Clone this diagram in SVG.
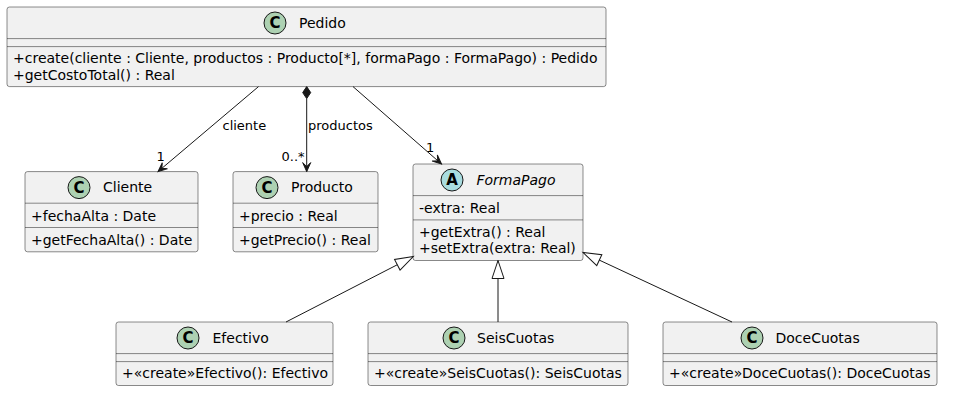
<svg xmlns="http://www.w3.org/2000/svg" width="957" height="400" viewBox="0 0 957 400">
<defs>
<style>
.box{fill:#F1F1F1;stroke:#181818;stroke-width:0.5;}
.sep{stroke:#181818;stroke-width:0.5;}
.t{font-family:"DejaVu Sans","Liberation Sans",sans-serif;font-size:14px;fill:#000000;}
.lbl{font-family:"DejaVu Sans","Liberation Sans",sans-serif;font-size:13px;fill:#000000;}
.ci{fill:#ADD1B2;stroke:#181818;stroke-width:1;}
.ai{fill:#A9DCDF;stroke:#181818;stroke-width:1;}
.ch{font-family:"DejaVu Sans","Liberation Sans",sans-serif;font-size:15px;font-weight:bold;fill:#000000;text-anchor:middle;}
.ln{stroke:#181818;stroke-width:1;fill:none;}
</style>
<marker id="arr" markerUnits="userSpaceOnUse" viewBox="-12 -6 14 12" refX="0" refY="0" markerWidth="14" markerHeight="12" orient="auto">
<path d="M0,0 L-9,-4 L-5,0 L-9,4 Z" fill="#181818" stroke="#181818" stroke-width="1"/>
</marker>
<marker id="tri" markerUnits="userSpaceOnUse" viewBox="-20 -8 22 16" refX="0" refY="0" markerWidth="22" markerHeight="16" orient="auto">
<path d="M0,0 L-18,-6 L-18,6 Z" fill="#FFFFFF" stroke="#181818" stroke-width="1"/>
</marker>
</defs>
<rect x="0" y="0" width="957" height="400" fill="#FFFFFF"/>

<g id="Pedido">
<rect class="box" x="7" y="7" width="599" height="79.6" rx="2.5" ry="2.5"/>
<circle class="ci" cx="275" cy="23" r="11"/>
<text class="ch" x="275" y="28.3">C</text>
<text class="t" x="299" y="27.8">Pedido</text>
<line class="sep" x1="7" y1="38.6" x2="606" y2="38.6"/>
<line class="sep" x1="7" y1="46.6" x2="606" y2="46.6"/>
<text class="t" x="13" y="63.4">+create(cliente : Cliente, productos : Producto[*], formaPago : FormaPago) : Pedido</text>
<text class="t" x="13" y="79.5">+getCostoTotal() : Real</text>
</g>

<g id="Cliente">
<rect class="box" x="25" y="171.6" width="173" height="80.2" rx="2.5" ry="2.5"/>
<circle class="ci" cx="79" cy="187.6" r="11"/>
<text class="ch" x="79" y="192.9">C</text>
<text class="t" x="103" y="192.4">Cliente</text>
<line class="sep" x1="25" y1="203.2" x2="198" y2="203.2"/>
<text class="t" x="31" y="220.5">+fechaAlta : Date</text>
<line class="sep" x1="25" y1="227.5" x2="198" y2="227.5"/>
<text class="t" x="31" y="244.8">+getFechaAlta() : Date</text>
</g>

<g id="Producto">
<rect class="box" x="233" y="171.6" width="145" height="80.2" rx="2.5" ry="2.5"/>
<circle class="ci" cx="267" cy="187.6" r="11"/>
<text class="ch" x="267" y="192.9">C</text>
<text class="t" x="291" y="192.4">Producto</text>
<line class="sep" x1="233" y1="203.2" x2="378" y2="203.2"/>
<text class="t" x="239" y="220.5">+precio : Real</text>
<line class="sep" x1="233" y1="227.5" x2="378" y2="227.5"/>
<text class="t" x="239" y="244.8">+getPrecio() : Real</text>
</g>

<g id="FormaPago">
<rect class="box" x="413" y="164" width="170" height="96.5" rx="2.5" ry="2.5"/>
<circle class="ai" cx="452" cy="180" r="11"/>
<text class="ch" x="452" y="185.3">A</text>
<text class="t" x="476.5" y="184.8" font-style="italic">FormaPago</text>
<line class="sep" x1="413" y1="195.6" x2="583" y2="195.6"/>
<text class="t" x="419" y="212.6">-extra: Real</text>
<line class="sep" x1="413" y1="219.9" x2="583" y2="219.9"/>
<text class="t" x="419" y="236.8">+getExtra() : Real</text>
<text class="t" x="419" y="253">+setExtra(extra: Real)</text>
</g>

<g id="Efectivo">
<rect class="box" x="116" y="322" width="217" height="63.5" rx="2.5" ry="2.5"/>
<circle class="ci" cx="188" cy="338" r="11"/>
<text class="ch" x="188" y="343.3">C</text>
<text class="t" x="212.5" y="342.8">Efectivo</text>
<line class="sep" x1="116" y1="353.6" x2="333" y2="353.6"/>
<line class="sep" x1="116" y1="361.6" x2="333" y2="361.6"/>
<text class="t" x="122" y="378.3">+«create»Efectivo(): Efectivo</text>
</g>

<g id="SeisCuotas">
<rect class="box" x="368" y="322" width="260" height="63.5" rx="2.5" ry="2.5"/>
<circle class="ci" cx="454" cy="338" r="11"/>
<text class="ch" x="454" y="343.3">C</text>
<text class="t" x="477" y="342.8">SeisCuotas</text>
<line class="sep" x1="368" y1="353.6" x2="628" y2="353.6"/>
<line class="sep" x1="368" y1="361.6" x2="628" y2="361.6"/>
<text class="t" x="374" y="378.3">+«create»SeisCuotas(): SeisCuotas</text>
</g>

<g id="DoceCuotas">
<rect class="box" x="663" y="322" width="274" height="63.5" rx="2.5" ry="2.5"/>
<circle class="ci" cx="752" cy="338" r="11"/>
<text class="ch" x="752" y="343.3">C</text>
<text class="t" x="775.5" y="342.8">DoceCuotas</text>
<line class="sep" x1="663" y1="353.6" x2="937" y2="353.6"/>
<line class="sep" x1="663" y1="361.6" x2="937" y2="361.6"/>
<text class="t" x="669" y="378.3">+«create»DoceCuotas(): DoceCuotas</text>
</g>

<g id="connectors">
<line class="ln" x1="258.5" y1="86.6" x2="158" y2="171.6" marker-end="url(#arr)"/>
<text class="lbl" x="222.5" y="129.5">cliente</text>
<text class="lbl" x="156.5" y="161">1</text>

<polygon points="306.7,86.6 310.7,92.6 306.7,98.6 302.7,92.6" fill="#181818" stroke="#181818" stroke-width="1"/>
<line class="ln" x1="306.7" y1="98.6" x2="306.7" y2="171.6" marker-end="url(#arr)"/>
<text class="lbl" x="308" y="129.5">productos</text>
<text class="lbl" x="281.5" y="161">0..*</text>

<line class="ln" x1="353" y1="86.6" x2="441.5" y2="164" marker-end="url(#arr)"/>
<text class="lbl" x="426" y="152">1</text>

<line class="ln" x1="286" y1="322" x2="413.3" y2="256.5" marker-end="url(#tri)"/>
<line class="ln" x1="498" y1="322" x2="498" y2="260.5" marker-end="url(#tri)"/>
<line class="ln" x1="732" y1="322" x2="583" y2="252.5" marker-end="url(#tri)"/>
</g>
</svg>
